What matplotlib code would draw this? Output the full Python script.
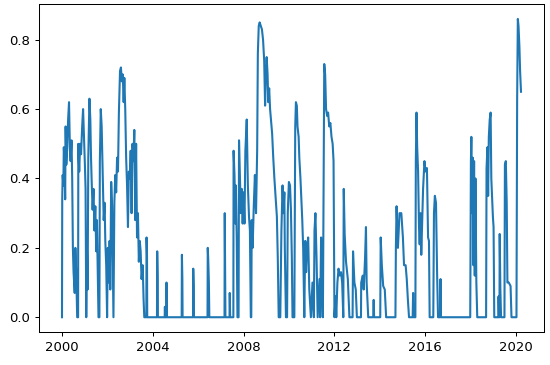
import numpy as np
import pandas as pd
import matplotlib
matplotlib.use("Agg")
import matplotlib.pyplot as plt
import matplotlib.dates as mdates

# decimal years / values, one list pair per period
t1 = [1999.99, 2000.00, 2000.02, 2000.05, 2000.07, 2000.10, 2000.13, 2000.15, 2000.18, 2000.22,
      2000.26, 2000.30, 2000.34, 2000.37, 2000.41, 2000.44, 2000.47, 2000.50, 2000.55, 2000.58,
      2000.62, 2000.66, 2000.70, 2000.71, 2000.75, 2000.79, 2000.83, 2000.88, 2000.92, 2000.96,
      2001.00, 2001.03, 2001.06, 2001.09, 2001.12, 2001.15, 2001.20, 2001.24, 2001.27, 2001.30,
      2001.34, 2001.38, 2001.42, 2001.46, 2001.50, 2001.53, 2001.57, 2001.60, 2001.64, 2001.66,
      2001.70, 2001.74, 2001.79, 2001.83, 2001.87, 2001.90, 2001.94, 2001.98, 2002.01, 2002.06,
      2002.09, 2002.12, 2002.16, 2002.20, 2002.23, 2002.26, 2002.30, 2002.34, 2002.38, 2002.42,
      2002.46, 2002.50, 2002.55, 2002.59, 2002.63, 2002.67, 2002.71, 2002.74, 2002.78, 2002.82,
      2002.86, 2002.90, 2002.94, 2002.98, 2003.02, 2003.06, 2003.10, 2003.14, 2003.18, 2003.22,
      2003.26, 2003.30, 2003.34, 2003.38, 2003.42, 2003.46, 2003.50, 2003.55, 2003.59, 2003.62]
v1 = [0.0, 0.34, 0.41, 0.38, 0.49, 0.45, 0.34, 0.55, 0.44, 0.49,
      0.57, 0.62, 0.48, 0.45, 0.51, 0.40, 0.20, 0.13, 0.07, 0.20,
      0.12, 0.0, 0.0, 0.50, 0.42, 0.50, 0.47, 0.55, 0.60, 0.52,
      0.44, 0.37, 0.0, 0.20, 0.08, 0.46, 0.63, 0.57, 0.46, 0.39,
      0.31, 0.37, 0.25, 0.32, 0.19, 0.28, 0.12, 0.0, 0.0, 0.45,
      0.60, 0.55, 0.40, 0.28, 0.33, 0.22, 0.15, 0.0, 0.20, 0.10,
      0.22, 0.08, 0.39, 0.32, 0.17, 0.0, 0.33, 0.41, 0.36, 0.46,
      0.42, 0.59, 0.71, 0.72, 0.68, 0.70, 0.62, 0.69, 0.60, 0.46,
      0.38, 0.26, 0.42, 0.40, 0.48, 0.30, 0.50, 0.45, 0.54, 0.28,
      0.50, 0.23, 0.30, 0.16, 0.22, 0.19, 0.11, 0.15, 0.05, 0.0]

t2 = [2003.71, 2003.72, 2003.74, 2003.75, 2004.18, 2004.19, 2004.21, 2004.22, 2004.52, 2004.53,
      2004.54, 2004.59, 2004.60, 2004.61, 2004.62, 2005.27, 2005.28, 2005.30, 2005.31, 2005.77,
      2005.78, 2005.80, 2005.81, 2006.41, 2006.42, 2006.44, 2006.47, 2006.49, 2007.16, 2007.17,
      2007.19, 2007.20, 2007.38, 2007.39, 2007.41, 2007.55]
v2 = [0.0, 0.23, 0.18, 0.0, 0.0, 0.19, 0.12, 0.0, 0.0, 0.03,
      0.0, 0.0, 0.10, 0.05, 0.0, 0.0, 0.18, 0.11, 0.0, 0.0,
      0.14, 0.09, 0.0, 0.0, 0.20, 0.17, 0.10, 0.0, 0.0, 0.30,
      0.12, 0.0, 0.0, 0.07, 0.0, 0.0]

t3 = [2007.56, 2007.60, 2007.64, 2007.66, 2007.70, 2007.73, 2007.78, 2007.80, 2007.84, 2007.88,
      2007.92, 2007.96, 2008.00, 2008.04, 2008.08, 2008.14, 2008.19, 2008.24, 2008.28, 2008.32,
      2008.34, 2008.36, 2008.40, 2008.45, 2008.50, 2008.55, 2008.60, 2008.63, 2008.67, 2008.71,
      2008.76, 2008.81, 2008.86, 2008.91, 2008.95, 2008.98, 2009.02, 2009.06, 2009.09, 2009.13,
      2009.17, 2009.21, 2009.26, 2009.31, 2009.36, 2009.42, 2009.47, 2009.51, 2009.55]
v3 = [0.48, 0.41, 0.27, 0.38, 0.22, 0.0, 0.0, 0.51, 0.40, 0.30,
      0.37, 0.27, 0.36, 0.27, 0.48, 0.57, 0.38, 0.29, 0.25, 0.0,
      0.0, 0.28, 0.20, 0.32, 0.41, 0.30, 0.48, 0.76, 0.84, 0.85,
      0.84, 0.83, 0.80, 0.74, 0.61, 0.68, 0.75, 0.70, 0.62, 0.66,
      0.60, 0.57, 0.53, 0.46, 0.40, 0.34, 0.29, 0.17, 0.0]

t4 = [2009.62, 2009.67, 2009.72, 2009.76, 2009.80, 2009.82, 2009.84, 2009.87, 2009.92, 2009.95,
      2010.00, 2010.05, 2010.09, 2010.13, 2010.16, 2010.24, 2010.28, 2010.31, 2010.35, 2010.38,
      2010.43, 2010.46, 2010.51, 2010.55, 2010.59, 2010.63, 2010.68, 2010.72, 2010.76, 2010.80,
      2010.85, 2010.90, 2010.97, 2011.04, 2011.10, 2011.13, 2011.17, 2011.22, 2011.27, 2011.35,
      2011.38, 2011.42, 2011.46, 2011.50, 2011.56, 2011.60, 2011.64, 2011.69, 2011.73, 2011.78,
      2011.83, 2011.88, 2011.93, 2011.97, 2012.01]
v4 = [0.0, 0.25, 0.38, 0.30, 0.36, 0.20, 0.12, 0.0, 0.0, 0.30,
      0.39, 0.38, 0.31, 0.17, 0.0, 0.0, 0.55, 0.62, 0.61, 0.55,
      0.52, 0.46, 0.40, 0.34, 0.28, 0.20, 0.0, 0.22, 0.13, 0.20,
      0.23, 0.08, 0.0, 0.10, 0.0, 0.25, 0.30, 0.17, 0.0, 0.11,
      0.0, 0.23, 0.07, 0.0, 0.73, 0.70, 0.60, 0.58, 0.59, 0.55,
      0.56, 0.52, 0.50, 0.45, 0.0]

t5 = [2012.06, 2012.09, 2012.14, 2012.19, 2012.24, 2012.30, 2012.35, 2012.40, 2012.42, 2012.46,
      2012.52, 2012.60, 2012.67, 2012.81, 2012.83, 2012.89, 2012.95, 2013.00, 2013.18, 2013.19,
      2013.26, 2013.30, 2013.36, 2013.40, 2013.43, 2013.50, 2013.72, 2013.74, 2013.76, 2014.03,
      2014.05, 2014.10, 2014.16, 2014.23, 2014.29, 2014.70, 2014.72, 2014.75, 2014.81, 2014.88,
      2014.96, 2015.03, 2015.08, 2015.15, 2015.20, 2015.25, 2015.30]
v5 = [0.06, 0.0, 0.10, 0.14, 0.12, 0.13, 0.10, 0.0, 0.37, 0.24,
      0.16, 0.11, 0.0, 0.0, 0.19, 0.10, 0.08, 0.0, 0.0, 0.10,
      0.12, 0.08, 0.17, 0.26, 0.10, 0.0, 0.0, 0.05, 0.0, 0.0,
      0.23, 0.15, 0.09, 0.08, 0.0, 0.0, 0.20, 0.32, 0.20, 0.30,
      0.30, 0.23, 0.15, 0.15, 0.11, 0.05, 0.0]

t6 = [2015.46, 2015.48, 2015.50, 2015.58, 2015.60, 2015.63, 2015.66, 2015.70, 2015.74, 2015.77,
      2015.81, 2015.84, 2015.88, 2015.92, 2015.98, 2016.03, 2016.09, 2016.14, 2016.18, 2016.21,
      2016.37, 2016.40, 2016.44, 2016.49, 2016.54, 2016.58, 2016.67, 2016.69, 2016.71, 2018.00]
v6 = [0.0, 0.07, 0.0, 0.0, 0.45, 0.59, 0.49, 0.42, 0.26, 0.21,
      0.30, 0.18, 0.28, 0.37, 0.45, 0.42, 0.43, 0.23, 0.22, 0.0,
      0.0, 0.30, 0.35, 0.33, 0.12, 0.0, 0.0, 0.11, 0.0, 0.0]

t7 = [2018.03, 2018.05, 2018.08, 2018.11, 2018.14, 2018.17, 2018.20, 2018.23, 2018.27, 2018.31,
      2018.70, 2018.72, 2018.76, 2018.79, 2018.82, 2018.86, 2018.90, 2018.93, 2018.96, 2019.00,
      2019.03, 2019.06, 2019.24, 2019.25, 2019.27, 2019.29, 2019.30, 2019.33, 2019.36, 2019.51,
      2019.53, 2019.57, 2019.61, 2019.64, 2019.70, 2019.78, 2019.82, 2020.04, 2020.07, 2020.10,
      2020.13, 2020.17, 2020.20, 2020.24]
v7 = [0.45, 0.52, 0.30, 0.46, 0.15, 0.45, 0.12, 0.40, 0.10, 0.0,
      0.0, 0.43, 0.49, 0.35, 0.52, 0.57, 0.59, 0.40, 0.35, 0.29,
      0.26, 0.0, 0.0, 0.06, 0.0, 0.0, 0.24, 0.08, 0.0, 0.0,
      0.44, 0.45, 0.33, 0.10, 0.10, 0.09, 0.0, 0.0, 0.63, 0.86,
      0.84, 0.78, 0.71, 0.65]

years = np.array(t1 + t2 + t3 + t4 + t5 + t6 + t7)
values = np.array(v1 + v2 + v3 + v4 + v5 + v6 + v7)
dates = pd.Timestamp("2000-01-01") + pd.to_timedelta((years - 2000) * 365.25, unit="D")

plt.rcParams["font.size"] = 9.5

fig = plt.figure(figsize=(5.5, 3.65), dpi=100)
ax = fig.add_axes([0.071, 0.09, 0.918, 0.899])
ax.plot(dates, values, color="#1f77b4", linewidth=1.5)

ax.xaxis.set_major_locator(mdates.YearLocator(4))
ax.xaxis.set_major_formatter(mdates.DateFormatter("%Y"))
ax.set_yticks([0.0, 0.2, 0.4, 0.6, 0.8])
ax.tick_params(length=3.2, width=0.73)
for s in ax.spines.values():
    s.set_linewidth(0.73)

fig.savefig("out.png", dpi=100)
